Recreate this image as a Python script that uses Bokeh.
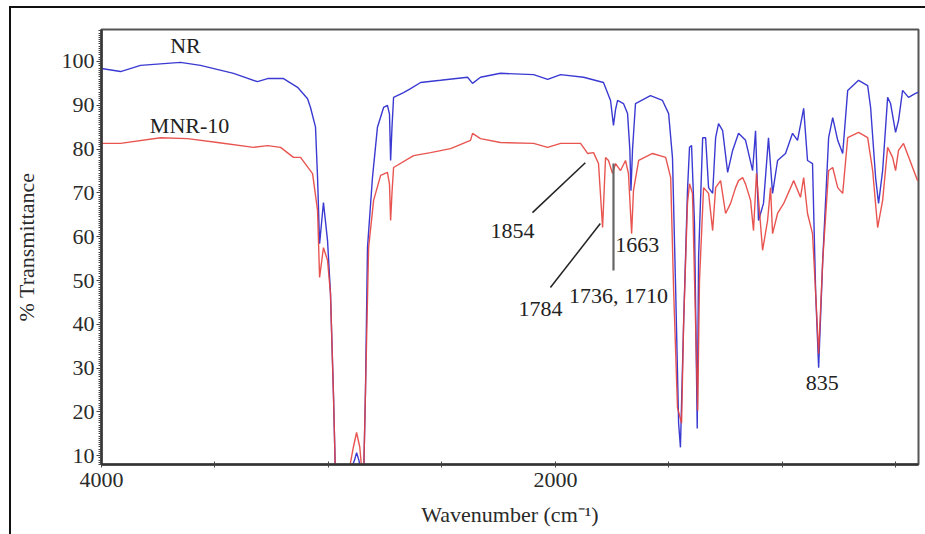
from bokeh.plotting import figure
from bokeh.models import Range1d, FixedTicker, ColumnDataSource
from bokeh.core.properties import value
from bokeh.embed import file_html
from bokeh.resources import INLINE

# ---- data ----
nr_wn = [4000, 3916, 3828, 3652, 3564, 3418, 3313, 3268, 3198, 3136, 3092, 3079, 3057, 3048, 3039, 3022,
         3004, 2991, 2978, 2969, 2950, 2915, 2885, 2876, 2866, 2850, 2845, 2837, 2828, 2806, 2784, 2757,
         2740, 2731, 2726, 2720, 2713, 2669, 2638, 2594, 2506, 2387, 2365, 2330, 2242, 2096, 2034, 1977,
         1876, 1788, 1757, 1744, 1735, 1726, 1700, 1682, 1672, 1667, 1660, 1647, 1581, 1528, 1501, 1484,
         1470, 1457, 1449, 1435, 1418, 1409, 1400, 1387, 1375, 1369, 1351, 1338, 1325, 1307, 1294, 1281,
         1263, 1241, 1219, 1193, 1162, 1131, 1118, 1105, 1083, 1061, 1043, 1021, 986, 955, 933, 906,
         889, 867, 853, 840, 822, 796, 778, 756, 734, 712, 664, 624, 611, 589, 576, 558, 536, 523, 501,
         488, 470, 444, 413, 400]
nr_t = [98.4, 97.7, 99.1, 99.8, 99.1, 97.3, 95.4, 96.1, 96.1, 94.1, 91.5, 89.5, 85.0, 73.5, 58.4, 67.8,
        59.1, 47.0, 24.2, 5.0, 4.0, 5.0, 9.0, 10.7, 9.0, 5.0, 5.0, 24.2, 57.5, 73.5, 85.0, 89.5,
        90.0, 88.0, 77.4, 85.0, 91.8, 92.9, 93.8, 95.2, 95.7, 96.4, 95.0, 96.4, 97.3, 97.0, 95.9, 97.0,
        96.4, 95.2, 91.1, 85.4, 89.0, 91.1, 90.4, 88.1, 80.0, 70.5, 80.0, 90.4, 92.2, 91.1, 88.1, 78.0,
        47.7, 17.4, 11.9, 40.2, 70.5, 80.4, 80.8, 63.0, 16.2, 55.3, 82.6, 82.6, 71.2, 69.9, 82.6, 85.8,
        84.2, 74.7, 79.7, 83.6, 82.0, 75.1, 84.2, 63.7, 67.6, 82.6, 69.9, 77.4, 79.0, 83.6, 82.0, 89.3,
        77.4, 76.7, 47.0, 30.1, 54.6, 82.6, 87.2, 82.0, 79.0, 93.4, 95.7, 94.5, 89.5, 73.5, 67.6, 75.1, 91.8, 90.4, 83.8,
        86.5, 93.4, 91.8, 92.7, 93.0]

mnr_wn = [4000, 3916, 3740, 3621, 3489, 3330, 3268, 3211, 3154, 3123, 3070, 3048, 3039, 3022, 3004, 2991,
          2978, 2969, 2950, 2915, 2890, 2876, 2862, 2850, 2845, 2837, 2823, 2801, 2770, 2740, 2731, 2726,
          2720, 2713, 2625, 2550, 2462, 2374, 2365, 2330, 2242, 2096, 2034, 1977, 1889, 1858, 1832, 1810,
          1792, 1779, 1766, 1748, 1735, 1713, 1691, 1678, 1664, 1656, 1633, 1572, 1514, 1492, 1479, 1462,
          1444, 1435, 1418, 1409, 1396, 1373, 1365, 1347, 1325, 1307, 1294, 1272, 1250, 1228, 1206, 1193,
          1175, 1162, 1140, 1127, 1114, 1087, 1065, 1052, 1043, 1021, 994, 950, 920, 906, 889, 867, 853,
          840, 822, 796, 778, 756, 734, 712, 664, 624, 602, 580, 558, 536, 514, 501, 488, 466, 426, 404]
mnr_t = [81.3, 81.3, 82.6, 82.4, 81.5, 80.4, 80.8, 80.4, 78.1, 78.1, 74.4, 66.0, 50.7, 57.5, 54.6, 47.0,
         24.2, 5.0, 4.0, 5.0, 12.0, 15.3, 12.0, 5.0, 5.0, 24.2, 57.5, 68.3, 74.0, 74.7, 72.0, 63.7,
         70.0, 75.8, 78.5, 79.2, 80.1, 82.0, 83.6, 82.4, 81.5, 81.3, 80.4, 81.3, 81.3, 79.0, 79.2, 76.7,
         62.1, 78.1, 77.4, 74.4, 76.7, 75.1, 77.4, 74.4, 60.7, 70.5, 77.4, 79.0, 78.1, 73.5, 47.7, 21.0,
         17.4, 40.2, 67.6, 72.1, 69.9, 20.3, 50.0, 71.2, 69.9, 61.4, 71.2, 72.8, 65.3, 67.6, 71.2, 72.8,
         73.5, 72.0, 68.3, 61.4, 74.4, 56.9, 63.7, 71.2, 60.7, 65.3, 67.6, 72.8, 69.0, 73.5, 65.3, 60.7, 47.0,
         33.3, 54.6, 75.1, 75.8, 71.2, 69.9, 82.6, 83.8, 82.6, 75.1, 62.1, 68.3, 80.4, 78.1, 75.1, 79.7, 81.3, 75.8, 72.8]

x_ticks = [4000, 3500, 3000, 2500, 2000, 1500, 1000, 500]
x_tick_labels = {4000: "4000", 2000: "2000"}
y_ticks = [10, 20, 30, 40, 50, 60, 70, 80, 90, 100]

label_text = ["NR", "MNR-10", "1854", "1784", "1736, 1710", "1663", "835"]
label_x = [3630, 3612, 2189, 2066, 1722, 1639, 824]
label_y = [103.7, 85.4, 61.4, 43.6, 46.6, 58.0, 26.5]

lead_x0 = [2101, 2022]
lead_y0 = [65.5, 48.4]
lead_x1 = [1868, 1802]
lead_y1 = [76.9, 63.0]
vline_x = [1744]
vline_y0 = [52.3]
vline_y1 = [76.7]

FONT = "Liberation Serif"

p = figure(width=925, height=534, output_backend="svg", toolbar_location=None,
           x_range=Range1d(4000, 400), y_range=Range1d(8, 107.3),
           min_border_left=101, min_border_right=7, min_border_top=29, min_border_bottom=70)
# outer (cropped) picture border at the top and the left
p.styles = {"box-shadow": "inset 9px 6px 0 0 #ffffff, inset 11px 8px 0 0 #111111"}

p.grid.visible = False
p.outline_line_color = "#555555"
p.outline_line_width = 2
p.background_fill_color = "white"
p.border_fill_alpha = 0

p.line(nr_wn, nr_t, line_color="#3a3ad2", line_width=1.4)
p.line(mnr_wn, mnr_t, line_color="#e5423e", line_width=1.4, line_alpha=0.9)

p.segment(x0=lead_x0, y0=lead_y0, x1=lead_x1, y1=lead_y1, line_color="#222222", line_width=1.5)
p.segment(x0=vline_x, y0=vline_y0, x1=vline_x, y1=vline_y1, line_color="#666666", line_width=2.2)

src = ColumnDataSource(dict(x=label_x, y=label_y, t=label_text))
p.text(x="x", y="y", text="t", source=src, text_font=value(FONT), text_font_size="22px",
       text_align="center", text_baseline="middle", text_color="#222222")

xa = p.xaxis[0]
xa.ticker = FixedTicker(ticks=x_ticks)
xa.major_label_overrides = {t: x_tick_labels.get(t, "") for t in x_ticks}
xa.axis_label = "Wavenumber (cm⁻¹)"
ya = p.yaxis[0]
ya.ticker = FixedTicker(ticks=y_ticks, minor_ticks=[v / 2 for v in range(16, 215)])
ya.axis_label = "% Transmittance"

for ax in (xa, ya):
    ax.axis_line_color = "#333333"
    ax.axis_line_width = 2.5
    ax.major_tick_line_color = "#444444"
    ax.minor_tick_line_color = "#444444"
    ax.major_label_text_font = FONT
    ax.major_label_text_font_size = "22px"
    ax.major_label_text_color = "#2a2a2a"
    ax.axis_label_text_font = FONT
    ax.axis_label_text_font_size = "22px"
    ax.axis_label_text_font_style = "normal"
    ax.axis_label_text_color = "#2a2a2a"

xa.major_tick_in = 3
xa.major_tick_out = 3
xa.minor_tick_in = 0
xa.minor_tick_out = 0
xa.major_label_standoff = 5
xa.axis_label_standoff = 12

ya.major_tick_in = 0
ya.major_tick_out = 5
ya.minor_tick_in = 0
ya.minor_tick_out = 3
ya.major_label_standoff = 2
ya.axis_label_standoff = 20

open("out.html", "w").write(file_html(p, INLINE))
